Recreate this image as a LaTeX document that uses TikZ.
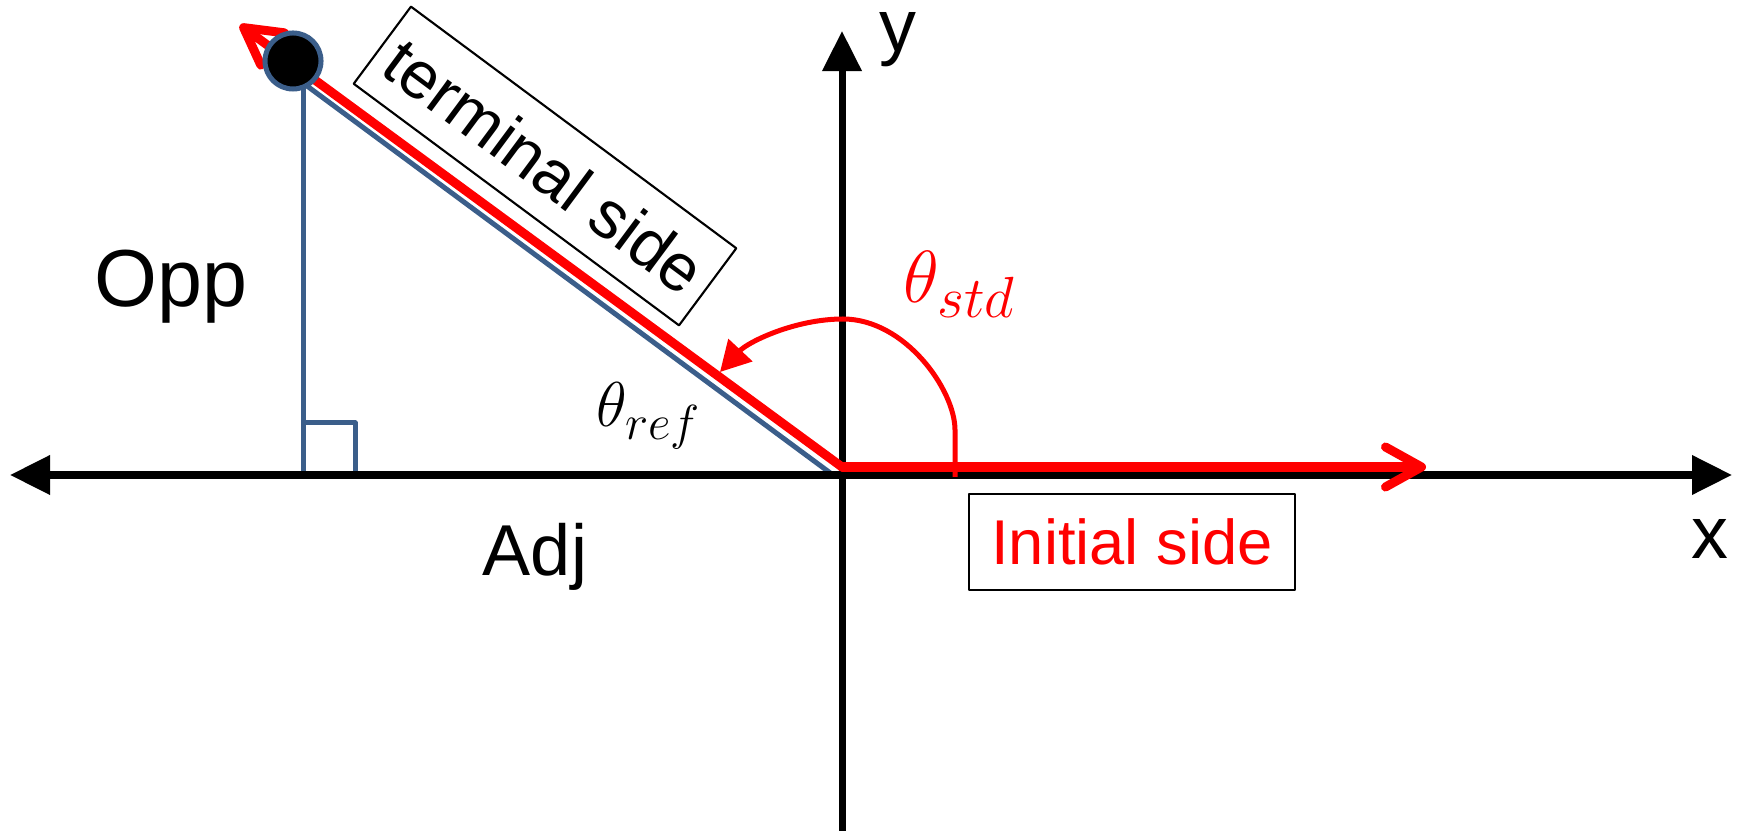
\RequirePackage{fix-cm}
\documentclass[tikz,border=0pt]{standalone}
\usepackage{fontspec}
\setmainfont{Liberation Sans}
\usetikzlibrary{arrows.meta}

\DeclareMathSizes{18}{18}{14}{11}
\DeclareMathSizes{21}{21}{16.5}{12}

\definecolor{triblue}{RGB}{59,94,138}

\begin{document}
\begin{tikzpicture}[
    x=0.01cm,
    y=-0.01cm,
    line join=round,
    axis/.style={
        -{Triangle[length=0.4cm,width=0.38cm]},
        line width=0.07cm
    },
    both axis/.style={
        {Triangle[length=0.4cm,width=0.38cm]}-{Triangle[length=0.4cm,width=0.38cm]},
        line width=0.07cm
    },
    tri/.style={
        draw=triblue,
        line width=0.05cm
    },
    ray/.style={
        red,
        line width=0.09cm,
        line cap=round,
        -{Straight Barb[length=0.36cm,width=0.4cm,round]}
    },
    sweep/.style={
        red,
        line width=0.05cm,
        -{Triangle[length=0.3cm,width=0.32cm]}
    },
    dot/.style={
        circle,
        draw=triblue,
        fill=black,
        line width=0.05cm,
        minimum size=0.56cm,
        inner sep=0pt
    },
    tag/.style={
        draw,
        line width=0.6pt,
        align=center,
        inner sep=0pt
    },
    label/.style={anchor=base, inner sep=0pt}
]

\useasboundingbox (0,0) rectangle (1740,831);

% =========================
% Points
% =========================
\coordinate (xmin) at (10,475);
\coordinate (xmax) at (1732,475);
\coordinate (ymin) at (842,831);
\coordinate (ymax) at (842,31);

\coordinate (vertex) at (842,467);
\coordinate (inittip) at (1426,467);
\coordinate (termtip) at (240,25);

\coordinate (corner) at (303,83);
\coordinate (foot) at (303,475);
\coordinate (hypend) at (833,475);

\coordinate (stdstart) at (955,477);
\coordinate (stdend) at (720,372);

% =========================
% Reference triangle
% =========================
\draw[tri] (303,423) rectangle (355,475);
\draw[tri] (corner) -- (foot);
\draw[tri] (corner) -- (hypend);

% =========================
% Axes
% =========================
\draw[both axis] (xmin) -- (xmax);
\draw[axis] (ymin) -- (ymax);

% =========================
% Angle
% =========================
\draw[ray] (vertex) -- (termtip);
\draw[ray] (vertex) -- (inittip);
\draw[sweep] (stdstart) -- (955,430)
    .. controls (955,390) and (905,319) .. (843,319)
    .. controls (795,319) and (748,342) .. (stdend);

\node[dot] (pt) at (293,61) {};

% =========================
% Labels
% =========================
\node[tag, rotate=-36.6, minimum width=4.05cm, minimum height=0.96cm,
      font=\fontsize{19}{23}\selectfont] (termbox) at (545,166) {terminal side};
\node[tag, minimum width=3.26cm, minimum height=0.96cm, text=red,
      font=\fontsize{18}{22}\selectfont] (initbox) at (1132,542) {Initial side};

\node[label, font=\fontsize{23}{27}\selectfont] (opp) at (171,307) {Opp};
\node[label, font=\fontsize{20.5}{24}\selectfont] (adj) at (535,575) {Adj};
\node[label, font=\fontsize{21}{25}\selectfont] (ylab) at (898,52) {y};
\node[label, font=\fontsize{21}{25}\selectfont] (xlab) at (1710,558) {x};

\node[label, font=\fontsize{18}{22}\selectfont] (tref) at (649,427) {$\theta_{ref}$};
\node[label, text=red, font=\fontsize{21}{25}\selectfont] (tstd) at (960,303) {$\theta_{std}$};

\end{tikzpicture}
\end{document}
